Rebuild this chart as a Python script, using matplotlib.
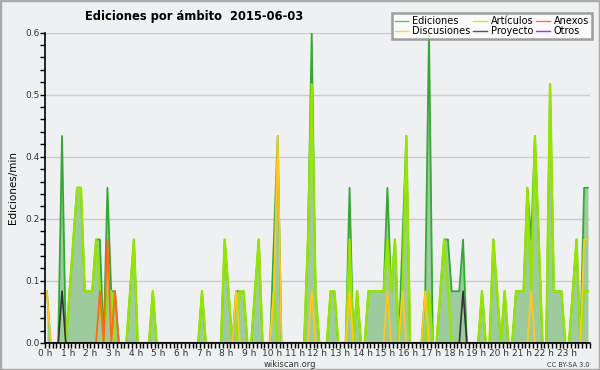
import numpy as np
import matplotlib
matplotlib.use("Agg")
import matplotlib.pyplot as plt
from matplotlib.lines import Line2D
from matplotlib.patches import Rectangle
from matplotlib.ticker import MultipleLocator, FormatStrFormatter

# edits per minute, 10-minute bins (6 per hour, one row per hour)
ediciones = [
    0.1, 0, 0, 0, 0.4, 0,        # 0 h
    0.1, 0.2, 0.3, 0.3, 0.1, 0.1,  # 1 h
    0.1, 0.2, 0.2, 0, 0.3, 0.1,  # 2 h
    0.1, 0, 0, 0, 0.1, 0.2,      # 3 h
    0, 0, 0, 0, 0.1, 0,          # 4 h
    0, 0, 0, 0, 0, 0,            # 5 h
    0, 0, 0, 0, 0, 0.1,          # 6 h
    0, 0, 0, 0, 0, 0.2,          # 7 h
    0.1, 0, 0.1, 0.1, 0.1, 0,    # 8 h
    0, 0.1, 0.2, 0, 0, 0,        # 9 h
    0.2, 0.4, 0, 0, 0, 0,        # 10 h
    0, 0, 0, 0.2, 0.6, 0.1,      # 11 h
    0, 0, 0, 0.1, 0.1, 0,        # 12 h
    0, 0, 0.3, 0, 0.1, 0,        # 13 h
    0, 0.1, 0.1, 0.1, 0.1, 0.1,  # 14 h
    0.3, 0.1, 0.2, 0, 0.2, 0.4,  # 15 h
    0, 0, 0, 0, 0.1, 0.6,        # 16 h
    0, 0, 0.1, 0.2, 0.2, 0.1,    # 17 h
    0.1, 0.1, 0.2, 0, 0, 0,      # 18 h
    0, 0.1, 0, 0, 0.2, 0.1,      # 19 h
    0, 0.1, 0, 0, 0.1, 0.1,      # 20 h
    0.1, 0.3, 0.2, 0.4, 0.2, 0,  # 21 h
    0, 0.5, 0.1, 0.1, 0.1, 0,    # 22 h
    0, 0.1, 0.2, 0, 0.3, 0.3,    # 23 h
]
articulos = [
    0, 0, 0, 0, 0, 0,
    0.1, 0.2, 0.3, 0.3, 0.1, 0.1,
    0.1, 0.2, 0.1, 0, 0.1, 0.1,
    0, 0, 0, 0, 0.1, 0.2,
    0, 0, 0, 0, 0.1, 0,
    0, 0, 0, 0, 0, 0,
    0, 0, 0, 0, 0, 0.1,
    0, 0, 0, 0, 0, 0.2,
    0.1, 0, 0, 0.1, 0.1, 0,
    0, 0.1, 0.2, 0, 0, 0,
    0.1, 0, 0, 0, 0, 0,
    0, 0, 0, 0.2, 0.5, 0.1,
    0, 0, 0, 0.1, 0.1, 0,
    0, 0, 0.2, 0, 0.1, 0,
    0, 0.1, 0.1, 0.1, 0.1, 0.1,
    0.2, 0.1, 0.2, 0, 0.1, 0.4,
    0, 0, 0, 0, 0, 0.1,
    0, 0, 0.1, 0.2, 0.1, 0,
    0, 0, 0, 0, 0, 0,
    0, 0.1, 0, 0, 0.2, 0.1,
    0, 0.1, 0, 0, 0.1, 0.1,
    0.1, 0.3, 0.1, 0.4, 0.2, 0,
    0, 0.5, 0.1, 0.1, 0.1, 0,
    0, 0.1, 0.2, 0, 0.1, 0.1,
]
discusiones = [0.0] * 144
for i, v in {0: 0.1, 50: 0.1, 60: 0.1, 61: 0.4, 70: 0.1, 80: 0.1, 90: 0.1,
             94: 0.1, 100: 0.1, 128: 0.1, 142: 0.2, 143: 0.2}.items():
    discusiones[i] = v
anexos = [0.0] * 144
for i, v in {14: 0.1, 16: 0.2, 18: 0.1}.items():
    anexos[i] = v
proyecto = [0.0] * 144
for i, v in {4: 0.1, 110: 0.1}.items():
    proyecto[i] = v
otros = [0.0] * 144

hours = (np.arange(144) + 0.5) / 6.0
hour_labels = ["%d h" % h for h in range(24)]

bg = "#eff0f1"
fig = plt.figure(figsize=(6, 3.7), dpi=100, facecolor=bg)
ax = fig.add_axes([0.075, 0.073, 0.908, 0.839], facecolor=bg)

ax.fill_between(hours, ediciones, color="#9ecb9e", lw=0, zorder=1)
ax.plot(hours, ediciones, color="#33a833", lw=1.3, zorder=3)
ax.plot(hours, articulos, color="#96e400", lw=1.7, zorder=4)
ax.plot(hours, anexos, color="#ff6a1a", lw=1.3, zorder=5)
ax.plot(hours, discusiones, color="#ffc81a", lw=1.3, zorder=5)
ax.plot(hours, proyecto, color="#333333", lw=1.2, zorder=6)
ax.plot(hours, otros, color="#9933ff", lw=1.2, zorder=2)

ax.set_xlim(0, 24)
ax.set_ylim(0, 0.6)
ax.xaxis.set_minor_locator(MultipleLocator(1 / 6))
ax.set_xticks(range(24))
ax.set_xticklabels(hour_labels)
ax.yaxis.set_major_locator(MultipleLocator(0.12))
ax.yaxis.set_minor_locator(MultipleLocator(0.024))
ax.yaxis.set_major_formatter(FormatStrFormatter("%.1f"))
ax.tick_params(which="both", direction="out", length=3.5, width=1,
               labelsize=6.5, labelcolor="#333333", pad=0.5)
ax.grid(axis="y", which="major", color="#cccccc", lw=1)
ax.set_axisbelow(True)
for s in ["top", "right"]:
    ax.spines[s].set_visible(False)
for s in ["left", "bottom"]:
    ax.spines[s].set_zorder(10)
    ax.spines[s].set_linewidth(1.2)
ax.set_ylabel("Ediciones/min", fontsize=7.5, labelpad=5)

fig.text(0.142, 0.955, "Ediciones por ámbito  2015-06-03", fontsize=8.3,
         fontweight="bold", ha="left", va="center")
fig.text(0.483, 0.014, "wikiscan.org", fontsize=6, color="#333333",
         ha="center", va="center")
fig.text(0.983, 0.014, "CC BY-SA 3.0", fontsize=4.8, color="#333333",
         ha="right", va="center")

handles = [Line2D([], [], color=c, lw=1) for c in
           ["#66c066", "#ffd633", "#c8ee22", "#555555", "#ff7733", "#9933ff"]]
names = ["Ediciones", "Discusiones", "Artículos", "Proyecto", "Anexos", "Otros"]
leg = fig.legend(handles, names, ncol=3, loc="upper right",
                 bbox_to_anchor=(0.995, 0.978), fontsize=7, frameon=True,
                 fancybox=False, handlelength=1.4, handletextpad=0.4,
                 columnspacing=0.3, labelspacing=0.05, borderpad=0.3)
leg.get_frame().set_edgecolor("#888888")
leg.get_frame().set_linewidth(1.8)

fig.patches.append(Rectangle((0, 0), 1, 1, transform=fig.transFigure,
                             fill=False, edgecolor="#aaaaaa", lw=2.5))

fig.savefig("out.png", dpi=100, facecolor=bg)
